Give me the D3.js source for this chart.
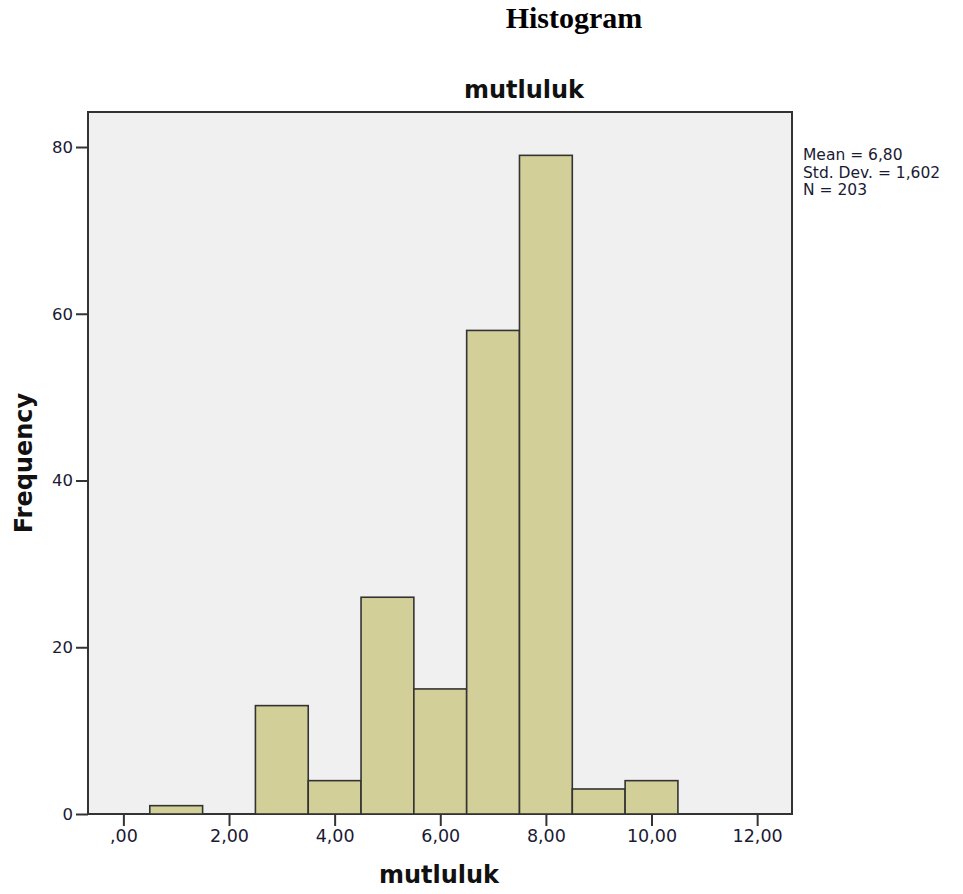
<!DOCTYPE html>
<html><head><meta charset="utf-8">
<script src="https://cdn.jsdelivr.net/npm/d3@7"></script>
<style>body{margin:0;background:#fff}</style>
</head><body>
<script>
const binCenters = [1, 2, 3, 4, 5, 6, 7, 8, 9, 10];
const frequencies = [1, 0, 13, 4, 26, 15, 58, 79, 3, 4];
const xTicks = [0, 2, 4, 6, 8, 10, 12];
const xTickLabels = [",00", "2,00", "4,00", "6,00", "8,00", "10,00", "12,00"];
const yTicks = [0, 20, 40, 60, 80];
const statsLines = ["Mean = 6,80", "Std. Dev. = 1,602", "N = 203"];

const W = 963, H = 894;
const svg = d3.select("body").append("svg").attr("width", W).attr("height", H);
const pL = 88, pR = 792, pT = 112, pB = 814;
const x = d3.scaleLinear().domain([-0.67, 12.66]).range([pL, pR]);
const y = d3.scaleLinear().domain([0, 84.2]).range([pB, pT]);
const font = "'DejaVu Sans', Verdana, sans-serif";

svg.append("text").attr("x", 574).attr("y", 28).attr("text-anchor", "middle")
  .attr("font-family", "'Liberation Serif', 'Times New Roman', serif").attr("font-weight", "bold")
  .attr("font-size", 30).attr("fill", "#000").text("Histogram");

svg.append("rect").attr("x", pL).attr("y", pT).attr("width", pR - pL).attr("height", pB - pT)
  .attr("fill", "#f0f0f0").attr("stroke", "#333").attr("stroke-width", 2);

svg.append("text").attr("x", 524).attr("y", 98).attr("text-anchor", "middle")
  .attr("font-family", font).attr("font-weight", "bold").attr("font-size", 24).attr("fill", "#111").text("mutluluk");

svg.selectAll("rect.bar").data(binCenters.map((c, i) => ({c, f: frequencies[i]})).filter(d => d.f > 0))
  .enter().append("rect").attr("class", "bar")
  .attr("x", d => x(d.c - 0.5)).attr("width", d => x(d.c + 0.5) - x(d.c - 0.5))
  .attr("y", d => y(d.f)).attr("height", d => y(0) - y(d.f))
  .attr("fill", "#d3cf98").attr("stroke", "#333").attr("stroke-width", 1.6);

const xAxis = d3.axisBottom(x).tickValues(xTicks).tickSize(12).tickPadding(4)
  .tickFormat((d, i) => xTickLabels[i]);
const gx = svg.append("g").attr("transform", `translate(0,${pB})`).call(xAxis);
gx.select(".domain").remove();
gx.selectAll("line").attr("stroke", "#333").attr("stroke-width", 2);
gx.selectAll("text").attr("font-family", font).attr("font-size", 17.5).attr("fill", "#1a1a33");

const yAxis = d3.axisLeft(y).tickValues(yTicks).tickSize(12).tickPadding(3);
const gy = svg.append("g").attr("transform", `translate(${pL},0)`).call(yAxis);
gy.select(".domain").remove();
gy.selectAll("line").attr("stroke", "#333").attr("stroke-width", 2);
gy.selectAll("text").attr("font-family", font).attr("font-size", 16.5).attr("fill", "#1a1a33");

svg.append("text").attr("x", 439).attr("y", 883).attr("text-anchor", "middle")
  .attr("font-family", font).attr("font-weight", "bold").attr("font-size", 24).attr("fill", "#111").text("mutluluk");

svg.append("text").attr("transform", "translate(32,463) rotate(-90)").attr("text-anchor", "middle")
  .attr("font-family", font).attr("font-weight", "bold").attr("font-size", 24).attr("fill", "#111").text("Frequency");

svg.append("g").selectAll("text").data(statsLines).enter().append("text")
  .attr("x", 803).attr("y", (d, i) => 160 + i * 17.5)
  .attr("font-family", font).attr("font-size", 15.5).attr("fill", "#1a1a33").text(d => d);
</script>
</body></html>
